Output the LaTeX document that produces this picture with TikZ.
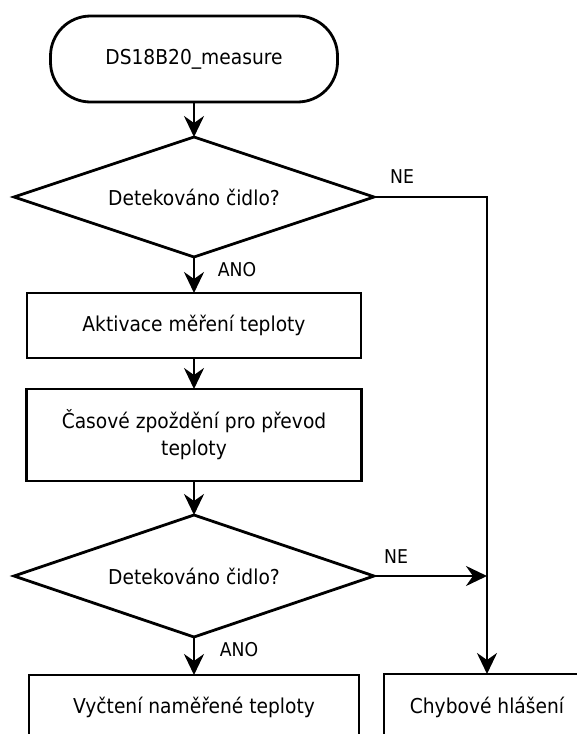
\documentclass[tikz,border=0pt]{standalone}
\usepackage{fontspec}
\setmainfont{DejaVu Sans}[FakeStretch=0.91]
\usetikzlibrary{shapes.geometric,arrows.meta}
\begin{document}
\begin{tikzpicture}[x=1pt,y=-1pt,
  every node/.style={font=\fontsize{20.5}{27}\selectfont, inner sep=0pt, outer sep=0pt},
  base/.style={draw, line width=2.8pt, align=center},
  term/.style={base, rectangle, rounded corners=40pt, minimum width=287pt, minimum height=86pt},
  proc/.style={base, rectangle},
  decide/.style={base, diamond, aspect=3, minimum width=360pt, minimum height=120pt},
  lbl/.style={font=\fontsize{19}{22}\selectfont},
  flow/.style={line width=2.8pt, -{Stealth[length=21pt,width=20pt,inset=7pt]}}
]
\useasboundingbox (0,0) rectangle (577,734);
\clip (0,0) rectangle (577,734);

% main column
\node[term] (start) at (194,59) {DS18B20\_measure};
\node[decide] (det1) at (194,197) {Detekováno čidlo?};
\node[proc, minimum width=334pt, minimum height=65pt] (act) at (194,325.5) {Aktivace měření teploty};
\node[proc, minimum width=335pt, minimum height=92pt] (wait) at (194,435) {Časové zpoždění pro převod\\teploty};
\node[decide, minimum height=122pt] (det2) at (194,576) {Detekováno čidlo?};
\node[proc, minimum width=330pt, minimum height=65pt] (read) at (194,707.5) {Vyčtení naměřené teploty};

% error branch
\node[proc, minimum width=206pt, minimum height=66pt] (err) at (487,707) {Chybové hlášení};

% branch labels
\node[lbl] (ne1) at (402,177) {NE};
\node[lbl] (ano1) at (237,270) {ANO};
\node[lbl] (ne2) at (396,557) {NE};
\node[lbl] (ano2) at (239,650) {ANO};

% connectors
\draw[flow] (start.south) -- (det1.north);
\draw[flow] (det1.south) -- (act.north);
\draw[flow] (act.south) -- (wait.north);
\draw[flow] (wait.south) -- (det2.north);
\draw[flow] (det2.south) -- (read.north);
\draw[flow] (det1.east) -| (err.north);
\draw[flow] (det2.east) -- (det2.east -| err.north);
\end{tikzpicture}
\end{document}
